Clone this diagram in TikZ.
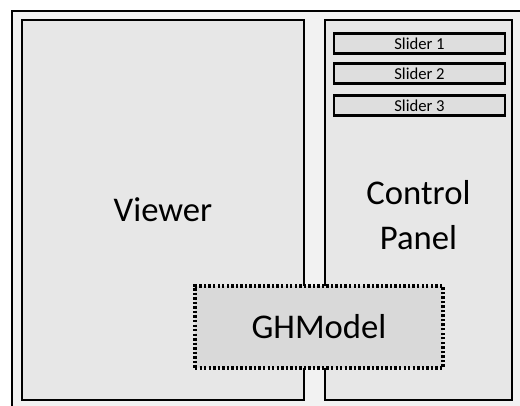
\documentclass[tikz,border=0pt]{standalone}
\usepackage{fontspec}
\setmainfont{Carlito}
\definecolor{frameFill}{HTML}{F2F2F2}
\definecolor{panelFill}{HTML}{E7E7E7}
\definecolor{sliderFill}{HTML}{DEDEDE}
\definecolor{modelFill}{HTML}{D9D9D9}
\begin{document}
\begin{tikzpicture}[x=0.75pt,y=-0.75pt,
  panel/.style={draw=black,line width=1.8pt,fill=panelFill,inner sep=0pt,
    font=\fontsize{26}{33.75}\selectfont,align=center},
  sliderbox/.style={draw=black,line width=1.8pt,fill=sliderFill,inner sep=0pt,
    minimum width=128.25pt,minimum height=15pt,font=\fontsize{12.5}{14}\selectfont},
  modelbox/.style={draw=black,line width=2.3pt,fill=modelFill,inner sep=0pt,
    dash pattern=on 1.8pt off 1.6pt,
    minimum width=186pt,minimum height=61.5pt,font=\fontsize{26}{30}\selectfont}]
\useasboundingbox (0,0) rectangle (520,405);
\clip (0,0) rectangle (520,405);
\fill[white] (0,0) rectangle (520,405);
\draw[line width=1.8pt,fill=frameFill] (12,11) rectangle (540,425);
\node[panel,minimum width=211.5pt,minimum height=285pt] (viewer) at (163,210) {Viewer};
\node[panel,minimum width=140.25pt,minimum height=285pt] (control) at (418.5,210) {};
\node[font=\fontsize{26}{33.75}\selectfont,align=center,inner sep=0pt] (controltext) at (418.5,215) {Control\\Panel};
\node[sliderbox] (s1) at (419.5,43.5) {Slider 1};
\node[sliderbox] (s2) at (419.5,73.5) {Slider 2};
\node[sliderbox] (s3) at (419.5,105.5) {Slider 3};
\node[modelbox] (gh) at (319,327) {GHModel};
\end{tikzpicture}
\end{document}
